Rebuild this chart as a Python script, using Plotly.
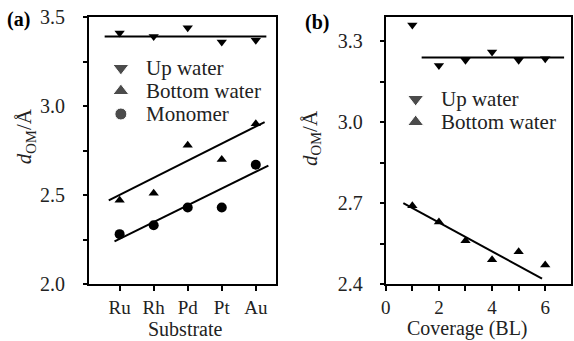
import plotly.graph_objects as go

# ---- Panel (a) data ----
substrates = ["Ru", "Rh", "Pd", "Pt", "Au"]
a_up_water = [3.41, 3.39, 3.44, 3.36, 3.37]
a_bottom_water = [2.47, 2.51, 2.78, 2.70, 2.90]
a_monomer = [2.28, 2.33, 2.43, 2.43, 2.67]
# fitted lines (endpoints, x in substrate index units)
a_up_fit_x = [0.56, 5.31]
a_up_fit_y = [3.39, 3.39]
a_bottom_fit_x = [0.68, 5.26]
a_bottom_fit_y = [2.47, 2.91]
a_mono_fit_x = [0.85, 5.37]
a_mono_fit_y = [2.24, 2.665]

# ---- Panel (b) data ----
coverage = [1, 2, 3, 4, 5, 6]
b_up_water = [3.36, 3.21, 3.23, 3.26, 3.23, 3.235]
b_bottom_water = [2.69, 2.63, 2.56, 2.49, 2.52, 2.47]
b_up_fit_x = [1.35, 6.71]
b_up_fit_y = [3.24, 3.24]
b_bottom_fit_x = [0.66, 5.88]
b_bottom_fit_y = [2.70, 2.42]

# legend labels
a_legend_names = ["Up water", "Bottom water", "Monomer"]
b_legend_names = ["Up water", "Bottom water"]

sub_pos = list(range(1, len(substrates) + 1))

FONT = "Liberation Serif"
BLACK = "black"
TXT = "#222"
W, H = 574, 341
ML, MR, MT, MB = 89, 1, 17, 57
PW = W - ML - MR
PH = H - MT - MB


def px_x(p):
    return (p - ML) / PW


def px_y(p):
    return (H - MB - p) / PH


fig = go.Figure()

mk_tri = 9
mk_circ = 10
LW = 2

# panel (a) data
for ys, sym, sz in [(a_up_water, "triangle-down", mk_tri),
                    (a_bottom_water, "triangle-up", mk_tri),
                    (a_monomer, "circle", mk_circ)]:
    fig.add_trace(go.Scatter(x=sub_pos, y=ys, mode="markers", showlegend=False,
                             marker=dict(symbol=sym, size=sz, color=BLACK),
                             xaxis="x", yaxis="y"))
for fx, fy in [(a_up_fit_x, a_up_fit_y), (a_bottom_fit_x, a_bottom_fit_y),
               (a_mono_fit_x, a_mono_fit_y)]:
    fig.add_trace(go.Scatter(x=fx, y=fy, mode="lines", showlegend=False,
                             line=dict(color=BLACK, width=LW), xaxis="x", yaxis="y"))

# panel (b) data
for ys, sym in [(b_up_water, "triangle-down"), (b_bottom_water, "triangle-up")]:
    fig.add_trace(go.Scatter(x=coverage, y=ys, mode="markers", showlegend=False,
                             marker=dict(symbol=sym, size=mk_tri, color=BLACK),
                             xaxis="x2", yaxis="y2"))
for fx, fy in [(b_up_fit_x, b_up_fit_y), (b_bottom_fit_x, b_bottom_fit_y)]:
    fig.add_trace(go.Scatter(x=fx, y=fy, mode="lines", showlegend=False,
                             line=dict(color=BLACK, width=LW), xaxis="x2", yaxis="y2"))

# ---- custom legends: keys on a pixel-coordinate overlay axis (x3/y3) ----
LEG_FONT = 21
leg_a = dict(kx=121, tx=144, y0=68, dy=23, syms=["triangle-down", "triangle-up", "circle"],
             sizes=[14, 14, 12], names=a_legend_names)
leg_b = dict(kx=417, tx=440, y0=99, dy=23, syms=["triangle-down", "triangle-up"],
             sizes=[14, 14], names=b_legend_names)
annotations = []
for lg in (leg_a, leg_b):
    n = len(lg["names"])
    ky = [lg["y0"] + i * lg["dy"] for i in range(n)]
    fig.add_trace(go.Scatter(x=[lg["kx"]] * n, y=ky, mode="markers", showlegend=False,
                             hoverinfo="skip", cliponaxis=False,
                             marker=dict(symbol=lg["syms"], size=lg["sizes"], color=BLACK),
                             xaxis="x3", yaxis="y3"))
    for name, yy in zip(lg["names"], ky):
        annotations.append(dict(text=name, x=px_x(lg["tx"]), y=px_y(yy), xref="paper",
                                yref="paper", xanchor="left", yanchor="middle",
                                showarrow=False,
                                font=dict(family=FONT, size=LEG_FONT, color=TXT)))

TITLE_FONT = dict(family=FONT, size=20, color=TXT)
annotations += [
    dict(text="<b>(a)</b>", x=px_x(5), y=px_y(19), xref="paper", yref="paper",
         xanchor="left", yanchor="middle", showarrow=False,
         font=dict(family=FONT, size=20, color=BLACK)),
    dict(text="<b>(b)</b>", x=px_x(304), y=px_y(22), xref="paper", yref="paper",
         xanchor="left", yanchor="middle", showarrow=False,
         font=dict(family=FONT, size=20, color=BLACK)),
    dict(text="<i>d</i><sub>OM</sub>/Å", x=px_x(25), y=px_y(136), xref="paper",
         yref="paper", xanchor="center", yanchor="middle", showarrow=False,
         textangle=-90, font=dict(family=FONT, size=21, color=TXT)),
    dict(text="<i>d</i><sub>OM</sub>/Å", x=px_x(312), y=px_y(138), xref="paper",
         yref="paper", xanchor="center", yanchor="middle", showarrow=False,
         textangle=-90, font=dict(family=FONT, size=21, color=TXT)),
    dict(text="Substrate", x=px_x(186), y=px_y(329), xref="paper", yref="paper",
         xanchor="center", yanchor="middle", showarrow=False, font=TITLE_FONT),
    dict(text="Coverage (BL)", x=px_x(469), y=px_y(328), xref="paper", yref="paper",
         xanchor="center", yanchor="middle", showarrow=False, font=TITLE_FONT),
]

axis_common = dict(showline=True, linecolor=BLACK, linewidth=LW, mirror=True,
                   ticks="outside", tickcolor=BLACK, showgrid=False, zeroline=False)
Y_TICKFONT = dict(family=FONT, size=20, color=TXT)
X_TICKFONT = dict(family=FONT, size=19, color=TXT)

xa_dom = [0, px_x(277)]
xb_dom = [px_x(387), 1]

fig.update_layout(
    width=W, height=H,
    margin=dict(l=ML, r=MR, t=MT, b=MB),
    paper_bgcolor="white", plot_bgcolor="rgba(0,0,0,0)",
    font=dict(family=FONT, size=20, color=TXT),
    showlegend=False,
    xaxis=dict(domain=xa_dom, range=[0.1, 5.6], tickvals=sub_pos, ticktext=substrates,
               ticklen=5, tickwidth=1.5, anchor="y", tickfont=X_TICKFONT, **axis_common),
    yaxis=dict(domain=[0, 1], range=[2.0, 3.5], tickvals=[2.0, 2.5, 3.0, 3.5],
               ticktext=["2.0", "2.5", "3.0", "3.5"], ticklen=4, tickwidth=1.5,
               ticklabelstandoff=14, anchor="x", tickfont=Y_TICKFONT,
               minor=dict(tickvals=[2.25, 2.75, 3.25], ticks="outside", ticklen=4,
                          tickcolor=BLACK, tickwidth=1.5, showgrid=False),
               **axis_common),
    xaxis2=dict(domain=xb_dom, range=[0, 6.97], tickvals=[0, 2, 4, 6],
                ticktext=["0", "2", "4", "6"], ticklen=5, tickwidth=1.5, anchor="y2",
                tickfont=X_TICKFONT,
                minor=dict(tickvals=[1, 3, 5], ticks="outside", ticklen=5,
                           tickcolor=BLACK, tickwidth=1.5, showgrid=False),
                **axis_common),
    yaxis2=dict(domain=[0, 1], range=[2.4, 3.39], tickvals=[2.4, 2.7, 3.0, 3.3],
                ticktext=["2.4", "2.7", "3.0", "3.3"], ticklen=4, tickwidth=1.5,
                ticklabelstandoff=13, anchor="x2", tickfont=Y_TICKFONT,
                minor=dict(tickvals=[2.55, 2.85, 3.15], ticks="outside", ticklen=4,
                           tickcolor=BLACK, tickwidth=1.5, showgrid=False),
                **axis_common),
    # pixel-coordinate overlay for legend keys
    xaxis3=dict(domain=[0, 1], range=[ML, W - MR], visible=False, anchor="y3",
                fixedrange=True),
    yaxis3=dict(domain=[0, 1], range=[H - MB, MT], visible=False, anchor="x3",
                fixedrange=True),
    annotations=annotations,
)

fig.write_html("out.html")
